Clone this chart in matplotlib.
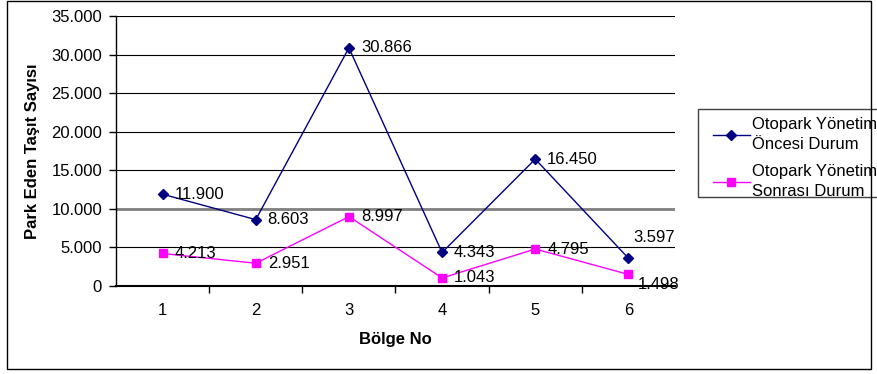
import matplotlib
matplotlib.use("Agg")
import matplotlib.pyplot as plt
from matplotlib.ticker import FuncFormatter, FixedLocator
from matplotlib.patches import Rectangle

plt.rcParams['font.family'] = ['Liberation Sans', 'DejaVu Sans']

regions = [1, 2, 3, 4, 5, 6]
before = [11900, 8603, 30866, 4343, 16450, 3597]
after = [4213, 2951, 8997, 1043, 4795, 1498]
series_names = ["Otopark Yönetim\nÖncesi Durum", "Otopark Yönetim\nSonrası Durum"]
y_ticks = [0, 5000, 10000, 15000, 20000, 25000, 30000, 35000]

W, H = 878, 374
fig = plt.figure(figsize=(W / 100, H / 100), dpi=100)
ax = fig.add_axes([116 / W, 1 - 286 / H, (675 - 116) / W, (286 - 16) / H])

ax.plot(regions, before, color='#000080', marker='D', markersize=5, lw=1, zorder=3, clip_on=False)
ax.plot(regions, after, color='#FF00FF', marker='s', markersize=6, lw=1, zorder=3, clip_on=False)

FS = 12
ax.set_xlim(0.5, 6.5)
ax.set_ylim(0, 35000)
ax.set_yticks(y_ticks)
ax.yaxis.set_major_formatter(FuncFormatter(lambda v, p: '0' if v == 0 else f"{int(v):,}".replace(',', '.')))
ax.set_xticks(regions)
ax.xaxis.set_minor_locator(FixedLocator([1.5, 2.5, 3.5, 4.5, 5.5]))
ax.tick_params(axis='x', which='major', length=0, labelsize=FS, pad=12)
ax.tick_params(axis='x', which='minor', length=5, direction='out', width=1)
ax.tick_params(axis='y', length=5, direction='out', labelsize=FS, width=1, pad=5)
ax.grid(axis='y', color='black', lw=0.8)
ax.set_axisbelow(True)
ax.axhline(y_ticks[2], color='#808080', lw=2, zorder=1)
for s in ['top', 'right']:
    ax.spines[s].set_visible(False)
ax.spines['left'].set_linewidth(1)
ax.spines['bottom'].set_linewidth(1.5)

ax.set_ylabel('Park Eden Taşıt Sayısı', fontsize=FS, fontweight='bold', labelpad=8)
ax.set_xlabel('Bölge No', fontsize=FS, fontweight='bold', labelpad=10)

def fmt(v):
    return f"{v:,}".replace(',', '.')

for i, (x, v) in enumerate(zip(regions, before)):
    off = (12, 0)
    if i == 5:
        off = (5, 21)
    ax.annotate(fmt(v), (x, v), textcoords='offset pixels', xytext=off, ha='left', va='center', fontsize=FS)
for i, (x, v) in enumerate(zip(regions, after)):
    off = (12, 0)
    if i == 5:
        off = (9, -10)
    ax.annotate(fmt(v), (x, v), textcoords='offset pixels', xytext=off, ha='left', va='center', fontsize=FS)

leg = fig.legend(series_names, loc='upper left', bbox_to_anchor=(713 / W, 1 - 117 / H),
                 fontsize=12, frameon=False,
                 handlelength=2.2, handletextpad=0.15, borderaxespad=0, labelspacing=0.7,
                 borderpad=0)
for t in leg.get_texts():
    t.set_linespacing(1.45)

fig.patches.append(Rectangle((698 / W, 1 - 197 / H), (900 - 698) / W, (197 - 109) / H,
                             transform=fig.transFigure, fill=False, edgecolor='#404040', lw=1))
fig.patches.append(Rectangle((7 / W, 1 - 369 / H), (871 - 7) / W, (369 - 1) / H,
                             transform=fig.transFigure, fill=False, edgecolor='black', lw=1))

fig.savefig('out.png', dpi=100)
